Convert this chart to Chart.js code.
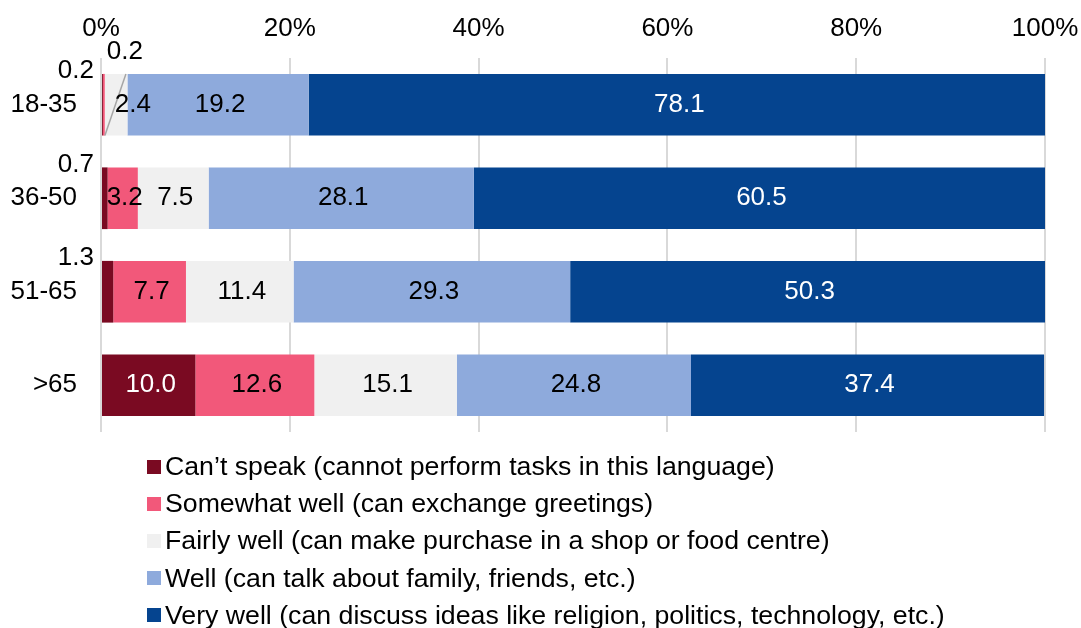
<!DOCTYPE html>
<html>
<head>
<meta charset="utf-8">
<script src="https://cdn.jsdelivr.net/npm/chart.js@4/dist/chart.umd.min.js"></script>
<style>
  html, body { margin: 0; padding: 0; background: #fff; }
  #wrap { position: relative; width: 1081px; height: 628px; }
  #legenda { position: absolute; left: 147px; top: 448px; font-family: Arial, 'Liberation Sans', sans-serif; font-size: 26.7px; color: #000; }
  .item { display: flex; align-items: center; height: 37.2px; white-space: nowrap; }
  .caixa { width: 14px; height: 14px; margin-right: 4px; }
</style>
</head>
<body>
<div id="wrap">
  <canvas id="grafico" width="1081" height="628"></canvas>
  <div id="legenda"></div>
</div>
<script>
/* dados */
const GRUPOS = ['18-35', '36-50', '51-65', '>65'];
const NIVEIS = [
  'Can\u2019t speak (cannot perform tasks in this language)',
  'Somewhat well (can exchange greetings)',
  'Fairly well (can make purchase in a shop or food centre)',
  'Well (can talk about family, friends, etc.)',
  'Very well (can discuss ideas like religion, politics, technology, etc.)'
];
const NAO_FALA = [0.2, 0.7, 1.3, 10.0];
const POUCO = [0.2, 3.2, 7.7, 12.6];
const RAZOAVEL = [2.4, 7.5, 11.4, 15.1];
const BEM = [19.2, 28.1, 29.3, 24.8];
const MUITO_BEM = [78.1, 60.5, 50.3, 37.4];
const TICKS_X = [0, 20, 40, 60, 80, 100];

const CORES = ['#7a0a22', '#f2587a', '#f0f0f0', '#8eaadc', '#05448f'];
const COR_TEXTO = ['#fff', '#000', '#000', '#000', '#fff'];
const FONTE = "Arial, 'Liberation Sans', sans-serif";
const TAM = 26;

const series = [NAO_FALA, POUCO, RAZOAVEL, BEM, MUITO_BEM];

// rotulos de valor dentro/fora das barras
const rotulos = {
  id: 'rotulos',
  afterDatasetsDraw(chart) {
    const ctx = chart.ctx;
    ctx.save();
    ctx.font = TAM + 'px ' + FONTE;
    ctx.textBaseline = 'middle';
    chart.data.datasets.forEach((ds, di) => {
      chart.getDatasetMeta(di).data.forEach((bar, i) => {
        const v = ds.data[i];
        const txt = v.toFixed(1);
        const larg = Math.abs(bar.x - bar.base);
        const topo = bar.y - bar.height / 2;
        const w = ctx.measureText(txt).width;
        if (di === 0 && v < 2) {
          // fora, a esquerda e acima
          ctx.fillStyle = '#000';
          ctx.textAlign = 'right';
          ctx.fillText(txt, bar.base - 8, topo - 3);
        } else if (di === 1 && v < 1) {
          // linha de chamada
          ctx.strokeStyle = '#a6a6a6';
          ctx.lineWidth = 1.5;
          ctx.beginPath();
          ctx.moveTo(bar.base + 2, topo + bar.height);
          ctx.lineTo(bar.base + 23, topo);
          ctx.stroke();
          ctx.fillStyle = '#000';
          ctx.textAlign = 'center';
          ctx.fillText(txt, bar.base + 22, topo - 22);
        } else if (w > larg + 10) {
          ctx.fillStyle = COR_TEXTO[di];
          ctx.textAlign = 'left';
          ctx.fillText(txt, bar.base + 10, bar.y);
        } else {
          ctx.fillStyle = COR_TEXTO[di];
          ctx.textAlign = 'center';
          ctx.fillText(txt, (bar.x + bar.base) / 2 + 2, bar.y);
        }
      });
    });
    ctx.restore();
  }
};

const grafico = new Chart(document.getElementById('grafico'), {
  type: 'bar',
  data: {
    labels: GRUPOS,
    datasets: NIVEIS.map((n, i) => ({
      label: n, data: series[i], backgroundColor: CORES[i],
      borderWidth: 0, barPercentage: 0.66, categoryPercentage: 1
    }))
  },
  options: {
    indexAxis: 'y', responsive: false, animation: false,
    layout: { padding: { left: 0, right: 36, top: 0, bottom: 196 } },
    plugins: { legend: { display: false }, tooltip: { enabled: false } },
    scales: {
      x: {
        position: 'top', stacked: true, min: 0, max: 100,
        afterBuildTicks: ax => { ax.ticks = TICKS_X.map(v => ({ value: v })); },
        afterFit: ax => { ax.height = 58; ax.paddingLeft = 0; ax.paddingRight = 0; },
        ticks: { callback: v => v + '%', color: '#000', font: { family: FONTE, size: TAM }, padding: 14 },
        grid: { color: '#d9d9d9', lineWidth: 2, drawTicks: false },
        border: { display: false }
      },
      y: {
        stacked: true,
        afterFit: ax => { ax.width = 101; },
        ticks: { color: '#000', font: { family: FONTE, size: TAM }, padding: 24 },
        grid: { display: false, drawTicks: false },
        border: { display: false }
      }
    }
  },
  plugins: [rotulos]
});

// legenda vertical em HTML
const leg = document.getElementById('legenda');
NIVEIS.forEach((n, i) => {
  const d = document.createElement('div');
  d.className = 'item';
  d.innerHTML = '<span class="caixa" style="background:' + CORES[i] + '"></span><span></span>';
  d.lastChild.textContent = n;
  leg.appendChild(d);
});
</script>
</body>
</html>
